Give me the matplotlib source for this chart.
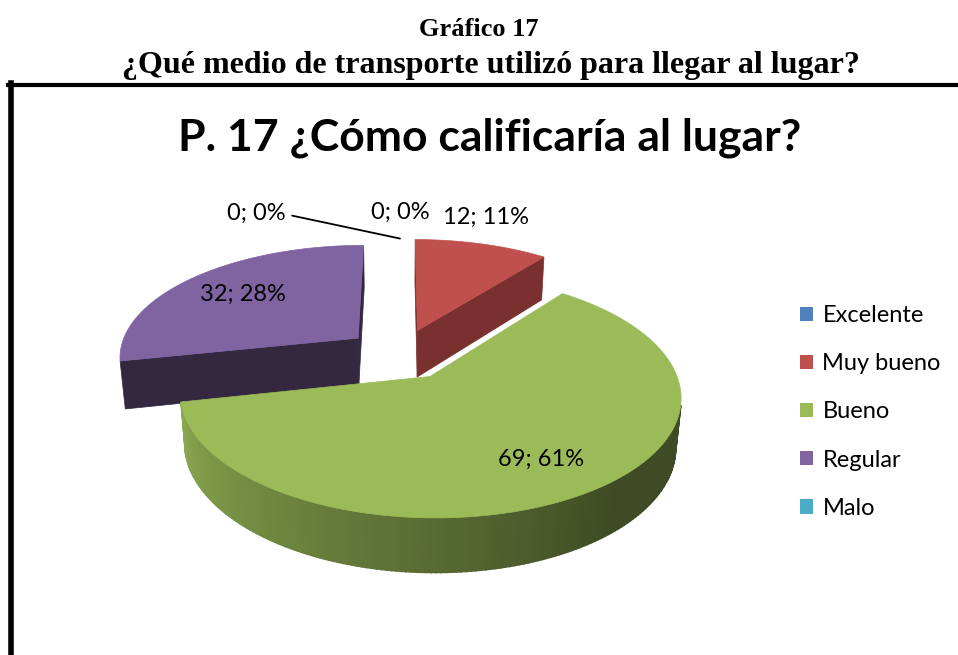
import numpy as np
import matplotlib
matplotlib.use('Agg')
import matplotlib.pyplot as plt
from matplotlib.patches import Polygon, Patch
from matplotlib.lines import Line2D
from matplotlib.colors import to_rgb

# Datos del gráfico
categorias = ['Excelente', 'Muy bueno', 'Bueno', 'Regular', 'Malo']
valores = [0, 12, 69, 32, 0]
colores = ['#4F81BD', '#C0504D', '#9BBB59', '#8064A2', '#4BACC6']
colores_pared = ['#2E4B70', '#7A302F', '#5D7135', '#33283F', '#2D6777']

# Estilo de las etiquetas (radio medido desde el vértice del sector)
radio_etiqueta = {'Bueno': 0.74, 'Regular': 0.69}
desplaz_etiqueta = {'Excelente': (0, 26), 'Muy bueno': (4, 27), 'Malo': (-144, 25)}
lineas_guia = ['Malo']

# Cámara del pastel 3D
ELEV = np.radians(27.8)
DIST = 5.71
ESCALA = 1368
ALTO = 0.229
EXPLOSION = 0.23

plt.rcParams['font.family'] = ['Lato', 'DejaVu Sans']


def proyectar(u, v, z):
    s, c = np.sin(ELEV), np.cos(ELEV)
    d = DIST + v * c - z * s
    return ESCALA * u / d, ESCALA * (v * s + z * c) / d


def area(xs, ys):
    return 0.5 * np.sum(xs * np.roll(ys, -1) - np.roll(xs, -1) * ys)


def cara(ax, u, v, z, color, lw=0.5):
    xs, ys = proyectar(np.asarray(u, float), np.asarray(v, float), np.asarray(z, float))
    ax.add_patch(Polygon(np.column_stack([xs, ys]), closed=True,
                         facecolor=color, edgecolor=color, linewidth=lw))


fig = plt.figure(figsize=(9.58, 6.55), dpi=100)
ax = fig.add_axes([0, 0, 1, 1])
ax.set_xlim(-400, 558)
ax.set_ylim(-301, 354)
ax.axis('off')

total = sum(valores)
limites = np.concatenate([[0], np.cumsum(valores)]) / total * 2 * np.pi
medios = (limites[:-1] + limites[1:]) / 2

# sectores del fondo primero
orden = sorted([i for i in range(len(valores)) if valores[i] > 0],
               key=lambda i: -np.cos(medios[i]))

for i in orden:
    a0, a1 = limites[i], limites[i + 1]
    ox, oy = EXPLOSION * np.sin(medios[i]), EXPLOSION * np.cos(medios[i])
    phis = np.linspace(a0, a1, max(int(np.degrees(a1 - a0)), 2) + 1)
    base = np.array(to_rgb(colores[i]))

    # paredes radiales
    for phi, sentido in ((a0, 1), (a1, -1)):
        u = [ox, ox + np.sin(phi), ox + np.sin(phi), ox]
        v = [oy, oy + np.cos(phi), oy + np.cos(phi), oy]
        z = [0, 0, -ALTO, -ALTO]
        xs, ys = proyectar(np.array(u), np.array(v), np.array(z))
        if sentido * area(xs, ys) > 0:
            cara(ax, u, v, z, colores_pared[i])

    # lateral curvo con degradado
    for p1, p2 in zip(phis[:-1], phis[1:]):
        ang = np.array([p1, p2, p2, p1])
        u = ox + np.sin(ang)
        v = oy + np.cos(ang)
        z = np.array([0, 0, -ALTO, -ALTO])
        xs, ys = proyectar(u, v, z)
        if area(xs, ys) > 0:
            grados = np.degrees((p1 + p2) / 2) % 360
            f = np.clip(0.40 + 0.50 * (grados - 140) / 118, 0.40, 0.90)
            cara(ax, u, v, z, tuple(base * f), lw=1.2)

    # cara superior
    u = np.concatenate([[ox], ox + np.sin(phis)])
    v = np.concatenate([[oy], oy + np.cos(phis)])
    cara(ax, u, v, np.zeros_like(u), colores[i])

# etiquetas de datos
for i, cat in enumerate(categorias):
    texto = f'{valores[i]}; {round(100 * valores[i] / total)}%'
    ox, oy = EXPLOSION * np.sin(medios[i]), EXPLOSION * np.cos(medios[i])
    if cat in radio_etiqueta:
        r = radio_etiqueta[cat]
        x, y = proyectar(ox + r * np.sin(medios[i]), oy + r * np.cos(medios[i]), 0.0)
        ax.text(x, y, texto, ha='center', va='center', fontsize=17)
    else:
        x, y = proyectar(ox + np.sin(medios[i]), oy + np.cos(medios[i]), 0.0)
        props = None
        if cat in lineas_guia:
            props = dict(arrowstyle='-', color='black', lw=1.3, relpos=(1, 0.5),
                         shrinkA=3, shrinkB=0,
                         connectionstyle='angle,angleA=0,angleB=-12,rad=0')
        ax.annotate(texto, xy=(x, y), xytext=desplaz_etiqueta[cat],
                    textcoords='offset pixels', ha='center', va='center',
                    fontsize=17, arrowprops=props)

# leyenda
manijas = [Patch(facecolor=c) for c in colores]
fig.legend(manijas, categorias, loc='center left', bbox_to_anchor=(800 / 958, 1 - 412 / 655),
           frameon=False, fontsize=17, handlelength=0.55, handleheight=0.55,
           handletextpad=0.4, labelspacing=1.15, borderpad=0, borderaxespad=0)

# títulos
fig.text(479 / 958, 1 - 30 / 655, 'Gráfico 17', ha='center', va='center',
         family='Liberation Serif', weight='bold', fontsize=19)
fig.text(491 / 958, 1 - 66 / 655, '¿Qué medio de transporte utilizó para llegar al lugar?',
         ha='center', va='center', family='Liberation Serif', weight='bold', fontsize=23)
fig.text(490 / 958, 1 - 138 / 655, 'P. 17 ¿Cómo calificaría al lugar?', ha='center',
         va='center', weight='bold', fontsize=32)

# marco
fig.add_artist(Line2D([8 / 958, 1], [1 - 85 / 655] * 2, transform=fig.transFigure,
                      color='black', lw=3))
fig.add_artist(Line2D([11 / 958] * 2, [1 - 83 / 655, 0], transform=fig.transFigure,
                      color='black', lw=4))

fig.savefig('out.png', dpi=100)
